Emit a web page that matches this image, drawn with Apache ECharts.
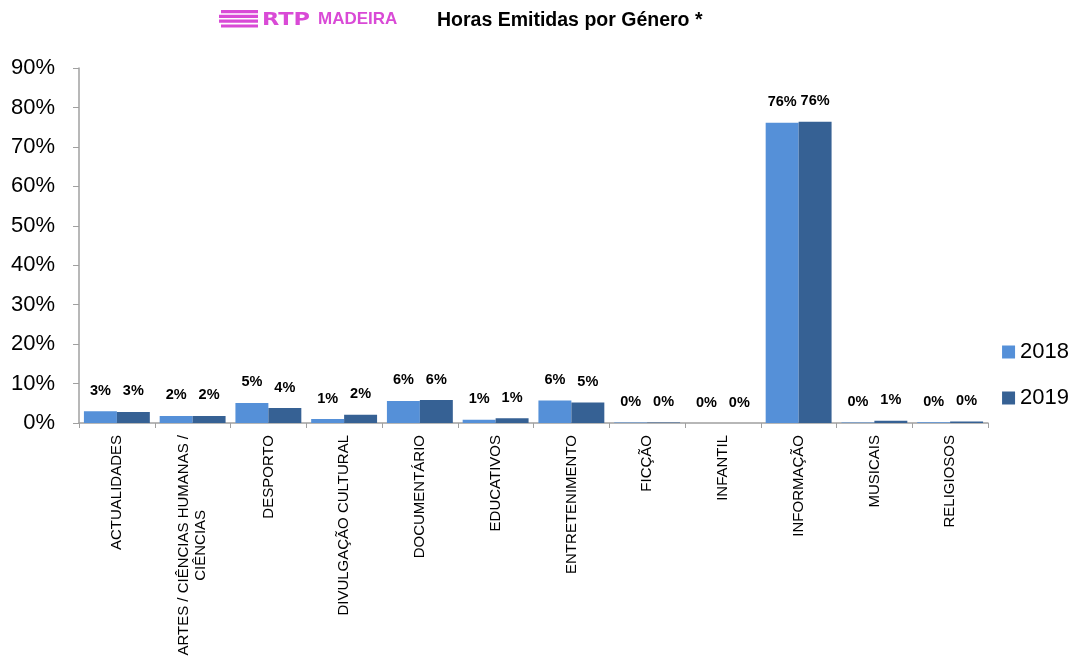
<!DOCTYPE html>
<html>
<head>
<meta charset="utf-8">
<script src="https://cdn.jsdelivr.net/npm/echarts@6/dist/echarts.min.js"></script>
<style>
  html, body { margin: 0; padding: 0; background: #fff; }
  #chart { width: 1084px; height: 663px; }
</style>
</head>
<body>
<div id="chart"></div>
<script>
const categories = [
  'ACTUALIDADES',
  'ARTES / CIÊNCIAS HUMANAS /\nCIÊNCIAS',
  'DESPORTO',
  'DIVULGAÇÃO CULTURAL',
  'DOCUMENTÁRIO',
  'EDUCATIVOS',
  'ENTRETENIMENTO',
  'FICÇÃO',
  'INFANTIL',
  'INFORMAÇÃO',
  'MUSICAIS',
  'RELIGIOSOS'
];
const values2018 = [3.0, 1.8, 5.1, 1.0, 5.6, 0.8, 5.7, 0.1, 0.0, 76.1, 0.1, 0.2];
const values2019 = [2.8, 1.8, 3.8, 2.1, 5.8, 1.2, 5.2, 0.1, 0.0, 76.4, 0.6, 0.4];
const yTicks = [0, 10, 20, 30, 40, 50, 60, 70, 80, 90];

const chart = echarts.init(document.getElementById('chart'));

const barLabel = {
  show: true,
  position: 'top',
  distance: 13,
  fontFamily: 'Liberation Sans, Arial, sans-serif',
  fontSize: 14.5,
  fontWeight: 'bold',
  color: '#000',
  formatter: p => Math.round(p.value) + '%'
};

const magenta = '#D94AD6';
const stripes = [0, 1, 2, 3].map(i => ({
  type: 'rect',
  shape: { x: 219 - (i === 0 || i === 3 ? -2 : 0), y: 10 + i * 4.8, width: 39 - (i === 0 || i === 3 ? 2 : 0), height: 3.2 },
  style: { fill: magenta }
}));

const option = {
  animation: false,
  grid: { left: 79, right: 96, top: 68, bottom: 240 },
  graphic: stripes.concat([
    {
      type: 'text', x: 262, y: 12, scaleX: 1.32,
      style: { text: 'RTP', fill: magenta, font: 'bold 17px "DejaVu Sans", sans-serif' }
    },
    {
      type: 'text', left: 318, top: 11,
      style: { text: 'MADEIRA', fill: magenta, font: 'bold 17px "Liberation Sans", Arial, sans-serif' }
    },
    {
      type: 'text', left: 437, top: 11,
      style: { text: 'Horas Emitidas por Género *', fill: '#000', font: 'bold 19.5px "Liberation Sans", Arial, sans-serif' }
    }
  ]),
  legend: {
    orient: 'vertical',
    right: 10,
    top: 336,
    itemWidth: 13,
    itemHeight: 13,
    itemGap: 24,
    icon: 'rect',
    textStyle: { fontFamily: 'Liberation Sans, Arial, sans-serif', fontSize: 22, color: '#000' },
    data: ['2018', '2019']
  },
  xAxis: {
    type: 'category',
    data: categories,
    axisLine: { lineStyle: { color: '#a0a0a0', width: 1.5 } },
    axisTick: { show: true, length: 5, lineStyle: { color: '#a0a0a0' } },
    axisLabel: {
      rotate: 90,
      interval: 0,
      margin: 12,
      color: '#000',
      formatter: v => v.split('\n').map(s => '{c|' + s + '}').join('\n'),
      rich: {
        c: {
          align: 'center',
          fontFamily: 'Liberation Sans, Arial, sans-serif',
          fontSize: 15,
          lineHeight: 17,
          color: '#000'
        }
      }
    }
  },
  yAxis: {
    type: 'value',
    min: 0,
    max: 90,
    interval: 10,
    splitLine: { show: false },
    axisLine: { show: true, lineStyle: { color: '#a0a0a0', width: 1.5 } },
    axisTick: { show: true, length: 6, lineStyle: { color: '#a0a0a0' } },
    axisLabel: {
      margin: 24,
      fontFamily: 'Liberation Sans, Arial, sans-serif',
      fontSize: 22,
      color: '#000',
      formatter: v => yTicks.includes(v) ? v + '%' : ''
    }
  },
  series: [
    {
      name: '2018',
      type: 'bar',
      data: values2018,
      barGap: '0%',
      barCategoryGap: '13%',
      itemStyle: { color: '#5590D8' },
      label: barLabel
    },
    {
      name: '2019',
      type: 'bar',
      data: values2019,
      itemStyle: { color: '#366194' },
      label: barLabel
    }
  ]
};

chart.setOption(option);
</script>
</body>
</html>
